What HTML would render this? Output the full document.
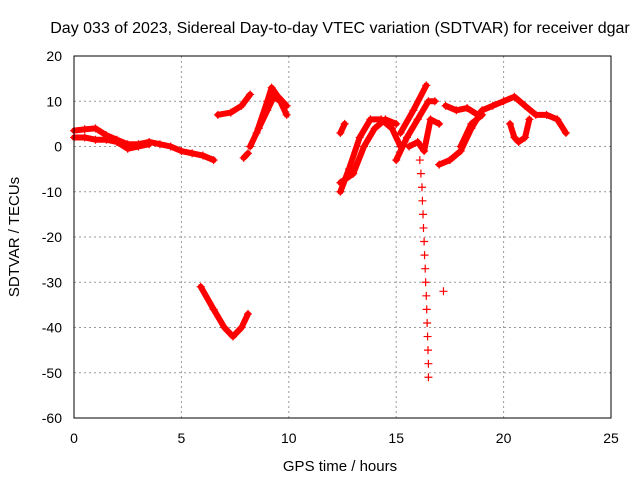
<!DOCTYPE html>
<html><head><meta charset="utf-8"><style>
body{margin:0;background:#fff}
svg{display:block;font-family:"Liberation Sans",sans-serif}
</style></head><body>
<svg id="chart" width="640" height="480">
<text x="340" y="33" font-size="16" text-anchor="middle">Day 033 of 2023, Sidereal Day-to-day VTEC variation (SDTVAR) for receiver dgar</text>
<text x="340" y="471" font-size="15" text-anchor="middle">GPS time / hours</text>
<text transform="translate(19,237) rotate(-90)" font-size="15" text-anchor="middle">SDTVAR / TECUs</text>
<g id="grid"></g><g id="ticks"></g><g id="marks"></g>
<rect x="74" y="56" width="537" height="362" fill="none" stroke="#000"/>
</svg>
<script>
const xTicks=[0,5,10,15,20,25];
const yTicks=[20,10,0,-10,-20,-30,-40,-50,-60];
const track1=[[0,3.5],[0.5,3.8],[1,4],[1.5,2.5],[2,1.5],[2.5,0.5],[3,0.5],[3.5,1],[4,0.5],[4.5,0],[5,-1],[5.5,-1.5],[6,-2],[6.5,-3]];
const track2=[[0,2],[0.5,2],[1,1.5],[1.5,1.5],[2,1],[2.5,-0.5],[3,0],[3.5,0.5]];
const track3=[[6.7,7],[7.3,7.5],[7.8,9],[8.2,11.5]];
const track4=[[5.9,-31],[6.5,-36],[7,-40],[7.4,-42],[7.8,-40],[8.1,-37]];
const track5=[[7.9,-2.5],[8.1,-1.5]];
const track6=[[8.2,0],[8.6,4],[9,8],[9.3,11],[9.6,10],[9.9,7]];
const track7=[[8.5,3],[9,10],[9.2,13],[9.5,11],[9.9,9]];
const track8=[[12.4,-10],[12.8,-5],[13.3,2],[13.8,6],[14.3,6],[14.8,4],[15.2,0]];
const track9=[[12.4,-8],[13,-6],[13.5,0],[14,4],[14.5,6],[15,5]];
const track10=[[12.4,3],[12.6,5]];
const track11=[[15,-3],[15.5,2],[16,6],[16.5,10],[16.8,10]];
const track12=[[15.2,3],[15.8,8],[16.4,13.5]];
const track13=[[15.6,0],[16,1],[16.3,-1],[16.6,6],[17,5]];
const track14=[[16.1,-3],[16.15,-6],[16.2,-9],[16.22,-12],[16.25,-15],[16.27,-18],[16.3,-21],[16.32,-24],[16.35,-27],[16.37,-30],[16.4,-33],[16.42,-36],[16.44,-39],[16.46,-42],[16.48,-45],[16.5,-48],[16.5,-51]];
const track15=[[17.2,-32]];
const track16=[[17,-4],[17.5,-3],[18,-1],[18.5,4],[19,8],[19.5,9],[20,10],[20.5,11],[21,9],[21.5,7],[22,7],[22.5,6],[22.9,3]];
const track17=[[17.3,9],[17.8,8],[18.3,8.5],[18.8,7]];
const track18=[[18,0],[18.5,5],[19,7]];
const track19=[[20.3,5],[20.5,2],[20.7,1],[21,2],[21.2,6]];
const tracks=[track1,track2,track3,track4,track5,track6,track7,track8,track9,track10,track11,track12,track13,track14,track15,track16,track17,track18,track19];
const X=v=>74+v*(537/25), Y=v=>146.5-v*(362/80);
const NS='http://www.w3.org/2000/svg';
const g=document.getElementById('grid'),t=document.getElementById('ticks'),m=document.getElementById('marks');
function mk(tag,attrs,parent){const e=document.createElementNS(NS,tag);for(const k in attrs)e.setAttribute(k,attrs[k]);parent.appendChild(e);return e;}
xTicks.forEach(v=>{
 const l=mk('line',{x1:X(v),x2:X(v),y1:56,y2:418,stroke:'#999','stroke-dasharray':'2,3'},g);
 
 
 const tx=mk('text',{x:X(v),y:443,'font-size':14,'text-anchor':'middle'},t);tx.textContent=v;
 
 
});
yTicks.forEach(v=>{
 const l=mk('line',{x1:74,x2:611,y1:Y(v),y2:Y(v),stroke:'#999','stroke-dasharray':'2,3'},g);
 
 
 const tx=mk('text',{x:62,y:Y(v)+5,'font-size':14,'text-anchor':'end'},t);tx.textContent=v;
 
 
});
tracks.forEach(tr=>{
 if(tr.length>1 && tr!==track14){
  const p=mk('polyline',{points:tr.map(d=>X(d[0])+','+Y(d[1])).join(' '),fill:'none',stroke:'#f00','stroke-width':6,'stroke-linejoin':'round','stroke-linecap':'round'},m);
  
  
 }
 tr.forEach(d=>{
  const x=X(d[0]),y=Y(d[1]);
  const c=mk('path',{d:`M${x-4},${y}H${x+4}M${x},${y-4}V${y+4}`,stroke:'#f00','stroke-width':1.2},m);
  
  
 });
});
</script>
</body></html>
